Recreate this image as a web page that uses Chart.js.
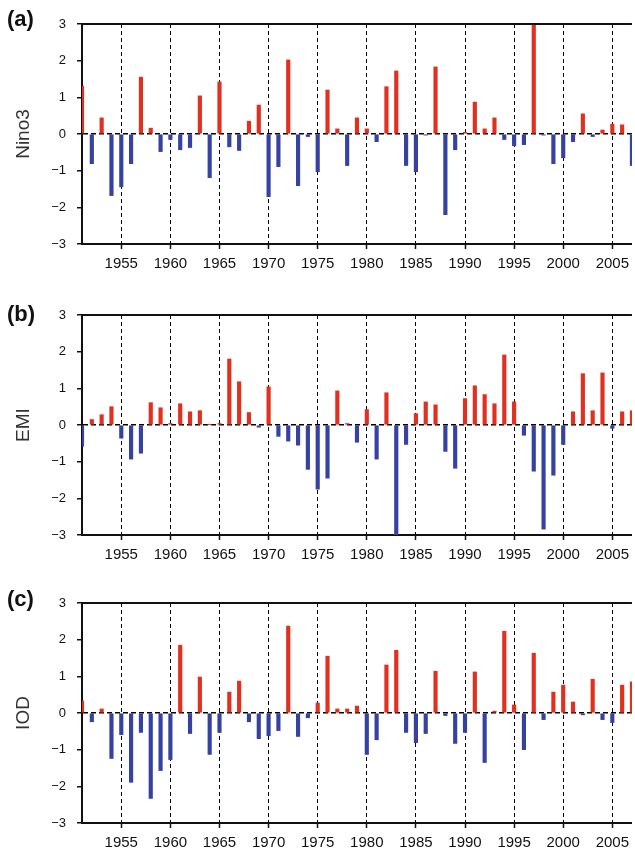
<!DOCTYPE html>
<html>
<head>
<meta charset="utf-8">
<script src="https://cdn.jsdelivr.net/npm/chart.js@4.4.0/dist/chart.umd.min.js"></script>
<style>
body { margin: 0; background: #fff; }
#wrap { position: relative; width: 635px; height: 855px; }
.panel { position: absolute; left: 0; width: 635px; }
.tag { position: absolute; left: 7px; font: bold 22px 'Liberation Sans', Arial, sans-serif; line-height: 22px; color: #111; }
</style>
</head>
<body>
<div id="wrap">
  <div class="panel" style="top:0;height:285px"><canvas id="nino3Chart"></canvas></div>
  <div class="panel" style="top:285px;height:290px"><canvas id="emiChart"></canvas></div>
  <div class="panel" style="top:575px;height:280px"><canvas id="iodChart"></canvas></div>
  <div class="tag" style="top:8px">(a)</div>
  <div class="tag" style="top:303px">(b)</div>
  <div class="tag" style="top:588px">(c)</div>
</div>
<script>
const years = [1951, 1952, 1953, 1954, 1955, 1956, 1957, 1958, 1959, 1960,
    1961, 1962, 1963, 1964, 1965, 1966, 1967, 1968, 1969, 1970,
    1971, 1972, 1973, 1974, 1975, 1976, 1977, 1978, 1979, 1980,
    1981, 1982, 1983, 1984, 1985, 1986, 1987, 1988, 1989, 1990,
    1991, 1992, 1993, 1994, 1995, 1996, 1997, 1998, 1999, 2000,
    2001, 2002, 2003, 2004, 2005, 2006, 2007];

const nino3 = [1.3, -0.81, 0.44, -1.68, -1.44, -0.81, 1.55, 0.16, -0.48, -0.15,
    -0.43, -0.37, 1.04, -1.19, 1.42, -0.35, -0.45, 0.35, 0.79, -1.71,
    -0.89, 2.02, -1.41, -0.07, -1.03, 1.2, 0.14, -0.86, 0.44, 0.14,
    -0.21, 1.29, 1.72, -0.86, -1.03, -0.03, 1.83, -2.2, -0.43, 0.05,
    0.87, 0.14, 0.44, -0.15, -0.32, -0.29, 3.1, -0.03, -0.81, -0.65,
    -0.21, 0.55, -0.07, 0.11, 0.27, 0.25, -0.86];

const emi = [-0.58, 0.15, 0.28, 0.5, -0.36, -0.93, -0.77, 0.61, 0.47, 0.04,
    0.58, 0.36, 0.39, 0.01, 0.04, 1.8, 1.18, 0.34, -0.06, 1.04,
    -0.31, -0.44, -0.55, -1.21, -1.75, -1.45, 0.93, 0.04, -0.47, 0.42,
    -0.93, 0.88, -3.0, -0.53, 0.31, 0.63, 0.55, -0.72, -1.18, 0.72,
    1.07, 0.83, 0.58, 1.91, 0.63, -0.28, -1.26, -2.84, -1.37, -0.53,
    0.36, 1.4, 0.39, 1.42, -0.09, 0.36, 0.39];

const iod = [0.33, -0.24, 0.11, -1.24, -0.59, -1.89, -0.53, -2.33, -1.57, -1.27,
    1.85, -0.56, 0.98, -1.13, -0.53, 0.57, 0.87, -0.24, -0.7, -0.62,
    -0.48, 2.37, -0.64, -0.13, 0.27, 1.55, 0.11, 0.11, 0.19, -1.13,
    -0.73, 1.31, 1.71, -0.53, -0.81, -0.56, 1.14, -0.07, -0.83, -0.53,
    1.12, -1.35, 0.05, 2.23, 0.22, -1.0, 1.63, -0.18, 0.57, 0.76,
    0.3, -0.05, 0.92, -0.18, -0.26, 0.76, 0.85];

const RED = '#e1301f';
const BLUE = '#3542a1';

// top edge of the frame (left/bottom come from the axis borders)
const frameTop = {
    id: 'frameTop',
    afterDraw(chart) {
        const { ctx, chartArea } = chart;
        ctx.save();
        ctx.strokeStyle = '#111';
        ctx.lineWidth = 2;
        ctx.beginPath();
        ctx.moveTo(chartArea.left - 1, chartArea.top);
        ctx.lineTo(chartArea.right, chartArea.top);
        ctx.stroke();
        ctx.restore();
    }
};

function makePanel(id, values, title, padTop, xHeight) {
    const ctx = document.getElementById(id).getContext('2d');
    return new Chart(ctx, {
        type: 'bar',
        data: {
            datasets: [{
                data: years.map((yr, i) => ({ x: yr, y: values[i] })),
                backgroundColor: values.map(v => v >= 0 ? RED : BLUE),
                barThickness: 3.5,
                borderWidth: 0
            }]
        },
        options: {
            responsive: true,
            maintainAspectRatio: false,
            animation: false,
            layout: { padding: { top: padTop, left: 0, right: 0, bottom: 0 } },
            plugins: {
                legend: { display: false },
                tooltip: { enabled: false }
            },
            scales: {
                x: {
                    type: 'linear',
                    min: 1951,
                    max: 2007,
                    offset: false,
                    ticks: {
                        stepSize: 5,
                        includeBounds: false,
                        autoSkip: false,
                        maxRotation: 0,
                        padding: 6,
                        color: '#111',
                        font: { family: "'Liberation Sans', Arial, sans-serif", size: 15 },
                        callback: v => String(v)
                    },
                    grid: {
                        offset: false,
                        color: '#000',
                        lineWidth: 1,
                        tickLength: 5,
                        tickColor: '#111',
                        tickWidth: 1.5
                    },
                    border: { color: '#111', width: 2, dash: [4, 3] },
                    afterFit: s => { s.height = xHeight; }
                },
                y: {
                    min: -3,
                    max: 3,
                    ticks: {
                        stepSize: 1,
                        padding: 11,
                        color: '#111',
                        font: { family: "'Liberation Sans', Arial, sans-serif", size: 13 },
                        callback: v => String(v).replace('-', '\u2212')
                    },
                    grid: {
                        color: c => (c.tick && c.tick.value === 0) ? '#000' : 'rgba(0,0,0,0)',
                        lineWidth: 1.5,
                        tickLength: 5,
                        tickColor: '#111',
                        tickWidth: 1.5
                    },
                    border: { color: '#111', width: 2, dash: [5, 3] },
                    title: {
                        display: true,
                        text: title,
                        color: '#333',
                        font: { family: "'Liberation Sans', Arial, sans-serif", size: 19 },
                        padding: { top: 12, bottom: 0 }
                    },
                    afterFit: s => { s.width = 82; }
                }
            }
        },
        plugins: [frameTop]
    });
}

makePanel('nino3Chart', nino3, 'Nino3', 24, 41);
makePanel('emiChart', emi, 'EMI', 30, 40);
makePanel('iodChart', iod, 'IOD', 28, 32);
</script>
</body>
</html>
